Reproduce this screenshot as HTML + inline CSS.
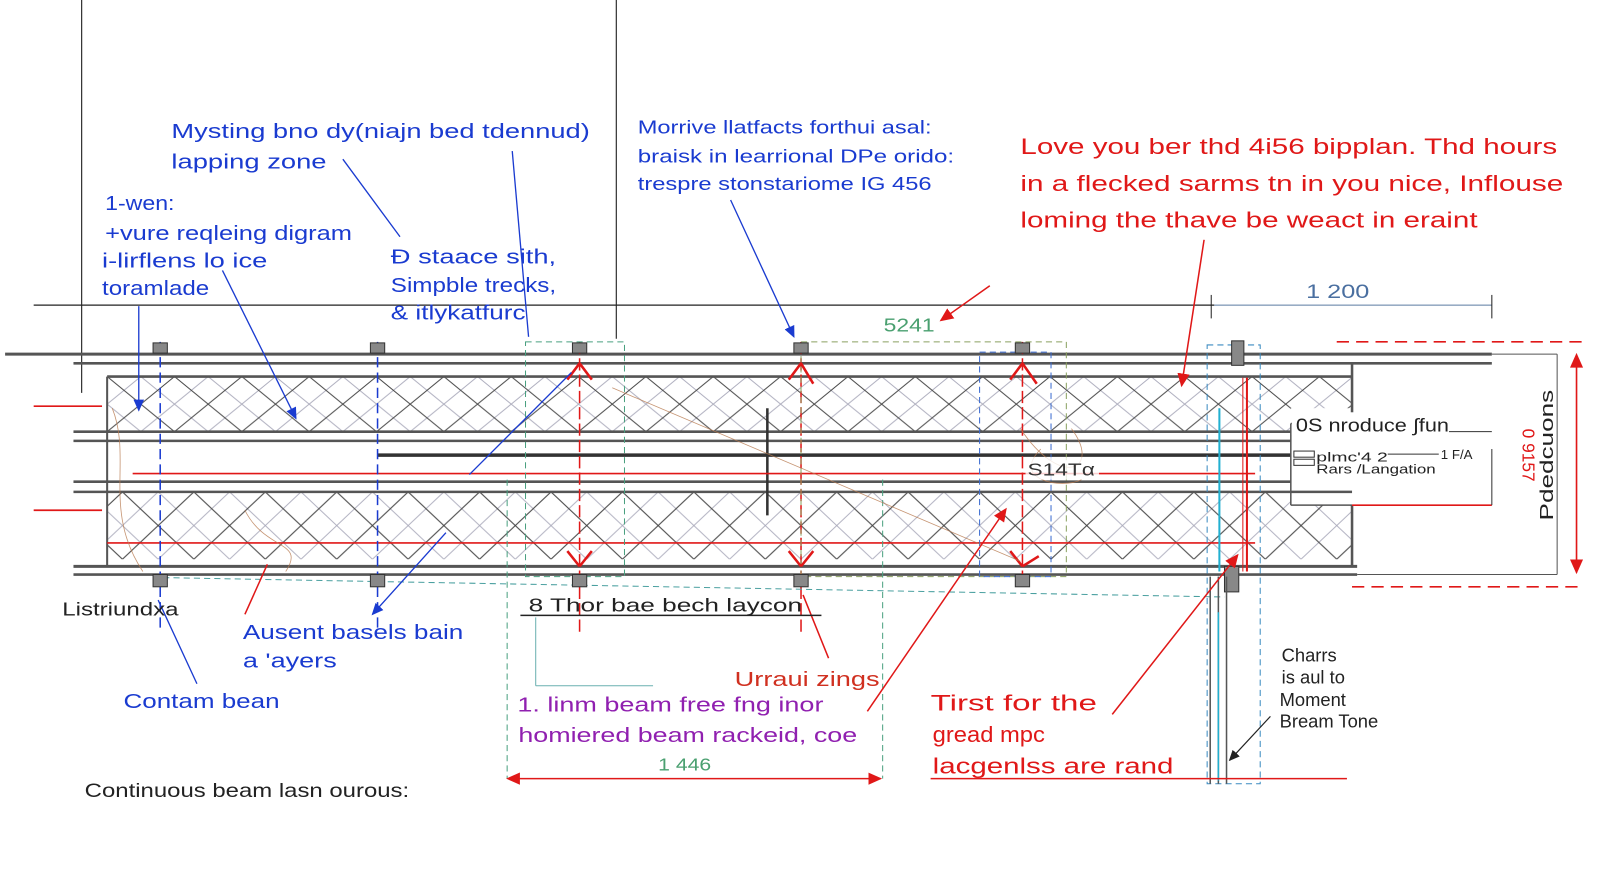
<!DOCTYPE html>
<html><head><meta charset="utf-8"><style>
html,body{margin:0;padding:0;background:#fff;}
svg{display:block;}
text{font-family:"Liberation Sans","DejaVu Sans",sans-serif;}
</style></head><body>
<svg width="1600" height="896" viewBox="0 0 1568 878" preserveAspectRatio="none" xmlns="http://www.w3.org/2000/svg">
<defs>
<pattern id="xp" width="66" height="54" patternUnits="userSpaceOnUse" x="105" y="369">
<path d="M0 0 L66 54 M66 0 L0 54" stroke="#444" stroke-width="1" fill="none"/>
</pattern>
<pattern id="xpl" width="66" height="54" patternUnits="userSpaceOnUse" x="138" y="369">
<path d="M0 0 L66 54 M66 0 L0 54" stroke="#aab" stroke-width="0.9" fill="none"/>
</pattern>
<pattern id="xp2" width="70" height="66" patternUnits="userSpaceOnUse" x="120" y="482">
<path d="M0 0 L70 66 M70 0 L0 66" stroke="#444" stroke-width="1" fill="none"/>
</pattern>
<pattern id="xp2l" width="70" height="66" patternUnits="userSpaceOnUse" x="155" y="482">
<path d="M0 0 L70 66 M70 0 L0 66" stroke="#aab" stroke-width="0.9" fill="none"/>
</pattern>
<marker id="ab" markerWidth="10" markerHeight="10" refX="8" refY="5" orient="auto"><path d="M0 1 L9 5 L0 9 Z" fill="#1a3bd0"/></marker>
<marker id="ar" markerWidth="10" markerHeight="10" refX="8" refY="5" orient="auto"><path d="M0 1 L9 5 L0 9 Z" fill="#e01818"/></marker>
<marker id="ar2" markerWidth="10" markerHeight="10" refX="2" refY="5" orient="auto"><path d="M9 1 L0 5 L9 9 Z" fill="#e01818"/></marker>
<marker id="ak" markerWidth="10" markerHeight="10" refX="8" refY="5" orient="auto"><path d="M0 1 L9 5 L0 9 Z" fill="#222"/></marker>
</defs>

<line x1="80" y1="0" x2="80" y2="385" stroke="#333" stroke-width="1.2"/>
<line x1="604" y1="0" x2="604" y2="332" stroke="#333" stroke-width="1.2"/>
<line x1="33" y1="299" x2="1190" y2="299" stroke="#222" stroke-width="1.2"/>
<line x1="1190" y1="299" x2="1462" y2="299" stroke="#5a7aa0" stroke-width="1"/>
<line x1="1187" y1="289" x2="1187" y2="312" stroke="#222"/>
<line x1="1462" y1="289" x2="1462" y2="312" stroke="#222"/>
<text x="1280" y="292" font-size="19" fill="#4a6fa0" textLength="62" lengthAdjust="spacingAndGlyphs">1  200</text>

<rect x="105" y="369" width="1220" height="54" fill="url(#xpl)"/>
<rect x="105" y="369" width="1220" height="54" fill="url(#xp)"/>
<rect x="105" y="482" width="1220" height="66" fill="url(#xp2l)"/>
<rect x="105" y="482" width="1220" height="66" fill="url(#xp2)"/>
<rect x="1265" y="400" width="62" height="95" fill="#fff"/>

<g stroke="#555">
<line x1="5" y1="347" x2="1462" y2="347" stroke-width="3"/>
<line x1="72" y1="356" x2="1462" y2="356" stroke-width="2.5"/>
<line x1="105" y1="369" x2="1325" y2="369" stroke-width="2.5"/>
<line x1="72" y1="423" x2="1265" y2="423" stroke-width="2.5"/>
<line x1="72" y1="432" x2="1265" y2="432" stroke-width="2.5"/>
<line x1="370" y1="446" x2="1265" y2="446" stroke-width="3.5" stroke="#333"/>
<line x1="72" y1="472" x2="1265" y2="472" stroke-width="2.5"/>
<line x1="72" y1="482" x2="1325" y2="482" stroke-width="2.5"/>
<line x1="72" y1="555" x2="1330" y2="555" stroke-width="3"/>
<line x1="72" y1="563" x2="1330" y2="563" stroke-width="2.5"/>
<line x1="105" y1="369" x2="105" y2="555" stroke-width="2"/>
<line x1="1325" y1="356" x2="1325" y2="415" stroke-width="2.5"/>
<line x1="1265" y1="415" x2="1325" y2="415" stroke-width="1.5"/>
<line x1="1265" y1="415" x2="1265" y2="495" stroke-width="1.5"/>
<line x1="1265" y1="495" x2="1325" y2="495" stroke-width="1.5"/>
<line x1="1325" y1="495" x2="1325" y2="555" stroke-width="2.5"/>
<line x1="1462" y1="347" x2="1526" y2="347" stroke-width="1"/>
<line x1="1526" y1="347" x2="1526" y2="563" stroke-width="1"/>
<line x1="1330" y1="563" x2="1526" y2="563" stroke-width="1"/>
<line x1="752" y1="400" x2="752" y2="505" stroke-width="2.5" stroke="#333"/>
</g>

<g stroke="#e01818" stroke-width="1.6" fill="none">
<line x1="130" y1="464" x2="1230" y2="464"/>
<line x1="105" y1="532" x2="1230" y2="532"/>
<line x1="33" y1="398" x2="100" y2="398"/>
<line x1="33" y1="500" x2="100" y2="500"/>
<line x1="1222" y1="370" x2="1222" y2="560" stroke-width="2"/>
<line x1="1218" y1="370" x2="1218" y2="560" stroke-width="1"/>
<line x1="1325" y1="495" x2="1462" y2="495" />
<line x1="1462" y1="440" x2="1462" y2="495" stroke="#333" stroke-width="1"/>
<line x1="1310" y1="335" x2="1552" y2="335" stroke-dasharray="12,7"/>
<line x1="1325" y1="575" x2="1552" y2="575" stroke-dasharray="12,7"/>
<line x1="1545" y1="349" x2="1545" y2="561" marker-end="url(#ar)" marker-start="url(#ar2)"/>
</g>

<g stroke-width="1.5" fill="none">
<line x1="157" y1="335" x2="157" y2="620" stroke="#1a3bd0" stroke-dasharray="10,5"/>
<line x1="370" y1="335" x2="370" y2="620" stroke="#1a3bd0" stroke-dasharray="10,5"/>
<line x1="568" y1="335" x2="568" y2="620" stroke="#e01818" stroke-dasharray="12,4"/>
<line x1="785" y1="335" x2="785" y2="620" stroke="#e01818" stroke-dasharray="12,4"/>
<line x1="1002" y1="335" x2="1002" y2="575" stroke="#e01818" stroke-dasharray="12,4"/>
<line x1="1195" y1="400" x2="1195" y2="560" stroke="#22b0d0" stroke-width="2"/>
</g>
<g fill="none" stroke-width="1" stroke-dasharray="6,4">
<rect x="515" y="335" width="97" height="230" stroke="#4aa080"/>
<rect x="785" y="335" width="260" height="230" stroke="#8aa060"/>
<rect x="960" y="345" width="70" height="220" stroke="#3a6ad0"/>
<rect x="1183" y="338" width="52" height="430" stroke="#3a8ac0"/>
<line x1="497" y1="470" x2="497" y2="763" stroke="#4aa080"/>
<line x1="865" y1="470" x2="865" y2="763" stroke="#4aa080"/>
<line x1="160" y1="566" x2="1200" y2="585" stroke="#4aa0a0"/>
</g>

<g fill="#888" stroke="#333" stroke-width="1">
<rect x="150" y="336" width="14" height="10"/><rect x="363" y="336" width="14" height="10"/>
<rect x="561" y="336" width="14" height="10"/><rect x="778" y="336" width="14" height="10"/>
<rect x="995" y="336" width="14" height="10"/><rect x="1207" y="334" width="12" height="24"/>
<rect x="150" y="563" width="14" height="12"/><rect x="363" y="563" width="14" height="12"/>
<rect x="561" y="563" width="14" height="12"/><rect x="778" y="563" width="14" height="12"/>
<rect x="995" y="563" width="14" height="12"/><rect x="1200" y="555" width="14" height="25"/>
</g>
<g stroke="#e01818" stroke-width="2.5" fill="none">
<path d="M568 356 L556 372 M568 356 L580 372 M785 356 L773 372 M785 356 L797 376 M1002 356 L990 372 M1002 356 L1016 376"/>
<path d="M568 555 L556 540 M568 555 L580 540 M785 555 L773 540 M785 555 L797 540 M1002 555 L990 540 M1002 555 L1018 545"/>
</g>
<g stroke="#b87a50" stroke-width="0.8" fill="none" opacity="0.8">
<path d="M110 400 C130 450 100 500 140 560 M240 500 C260 540 300 530 280 560 M600 380 L1000 550 M1000 420 C1040 480 1080 460 1050 420 M1020 440 C990 470 1040 480 1060 470"/>
</g>
<g stroke="#555" stroke-width="1.5">
<line x1="1186" y1="565" x2="1186" y2="768"/><line x1="1194" y1="565" x2="1194" y2="768"/><line x1="1202" y1="565" x2="1202" y2="768"/>
</g>
<line x1="1194" y1="600" x2="1194" y2="765" stroke="#22b0d0" stroke-width="1.5"/>

<g stroke="#1a3bd0" stroke-width="1.3" fill="none">
<line x1="336" y1="156" x2="392" y2="232"/>
<line x1="502" y1="148" x2="518" y2="330"/>
<line x1="218" y1="265" x2="290" y2="410" marker-end="url(#ab)"/>
<line x1="136" y1="300" x2="136" y2="402" marker-end="url(#ab)"/>
<line x1="716" y1="196" x2="778" y2="330" marker-end="url(#ab)"/>
<line x1="155" y1="588" x2="193" y2="670"/>
<line x1="437" y1="522" x2="365" y2="602" marker-end="url(#ab)"/>
<line x1="560" y1="365" x2="460" y2="465"/>
</g>
<g stroke="#e01818" stroke-width="1.5" fill="none">
<line x1="970" y1="280" x2="922" y2="314" marker-end="url(#ar)"/>
<line x1="1180" y1="235" x2="1158" y2="378" marker-end="url(#ar)"/>
<line x1="262" y1="553" x2="240" y2="602"/>
<line x1="787" y1="583" x2="812" y2="645"/>
<line x1="985" y1="500" x2="850" y2="697" marker-start="url(#ar2)"/>
<line x1="1212" y1="545" x2="1090" y2="700" marker-start="url(#ar2)"/>
<line x1="912" y1="763" x2="1320" y2="763"/>
<line x1="499" y1="763" x2="863" y2="763" marker-end="url(#ar)" marker-start="url(#ar2)"/>
</g>
<line x1="1245" y1="702" x2="1205" y2="745" stroke="#222" stroke-width="1.2" marker-end="url(#ak)"/>
<line x1="510" y1="603" x2="805" y2="603" stroke="#222" stroke-width="1.5"/>
<line x1="525" y1="605" x2="525" y2="672" stroke="#6ab0b0"/>
<line x1="525" y1="672" x2="640" y2="672" stroke="#6ab0b0"/>

<rect x="1266" y="404" width="155" height="22" fill="#fff"/>
<text x="1270" y="423" font-size="18" fill="#222" textLength="150" lengthAdjust="spacingAndGlyphs">0S nroduce ∫fun</text>
<line x1="1420" y1="423" x2="1462" y2="423" stroke="#333"/>
<text x="1290" y="452" font-size="13" fill="#222" textLength="70" lengthAdjust="spacingAndGlyphs">plmc'4 2</text>
<line x1="1360" y1="445" x2="1410" y2="445" stroke="#333"/>
<text x="1412" y="450" font-size="13" fill="#222">1 F/A</text>
<text x="1290" y="464" font-size="13" fill="#222" textLength="117" lengthAdjust="spacingAndGlyphs">Rars /Langation</text>
<rect x="1268" y="442" width="20" height="6" fill="none" stroke="#333"/><rect x="1268" y="450" width="20" height="6" fill="none" stroke="#333"/>
<text x="0" y="0" font-size="18" fill="#222" transform="translate(1522,510) rotate(-90)" textLength="128" lengthAdjust="spacingAndGlyphs">Pdedcuons</text>
<text x="0" y="0" font-size="17" fill="#e01818" transform="translate(1492,420) rotate(90)">0 9157</text>
<rect x="1005" y="448" width="72" height="22" fill="#fff" opacity="0.8"/>
<text x="1007" y="466" font-size="17" fill="#333" textLength="66" lengthAdjust="spacingAndGlyphs">S14Tα</text>
<text x="866" y="325" font-size="18" fill="#4aa070" textLength="50" lengthAdjust="spacingAndGlyphs">5241</text>

<g font-size="20" fill="#1a3bd0">
<text x="168" y="135" textLength="410" lengthAdjust="spacingAndGlyphs">Mysting bno dy(niajn bed tdennud)</text>
<text x="168" y="165" textLength="152" lengthAdjust="spacingAndGlyphs">lapping zone</text>
<text x="103" y="206" textLength="68" lengthAdjust="spacingAndGlyphs">1-wen:</text>
<text x="103" y="235" textLength="242" lengthAdjust="spacingAndGlyphs">+vure reqleing digram</text>
<text x="100" y="262" textLength="162" lengthAdjust="spacingAndGlyphs">i-lirflens lo ice</text>
<text x="100" y="289" textLength="105" lengthAdjust="spacingAndGlyphs">toramlade</text>
<text x="383" y="258" textLength="162" lengthAdjust="spacingAndGlyphs">Ð staace  sith,</text>
<text x="383" y="286" textLength="162" lengthAdjust="spacingAndGlyphs">Simpble trecks,</text>
<text x="383" y="313" textLength="132" lengthAdjust="spacingAndGlyphs">&amp; itlykatfurc</text>
<text x="625" y="131" textLength="288" lengthAdjust="spacingAndGlyphs" font-size="18">Morrive llatfacts forthui asal:</text>
<text x="625" y="159" textLength="310" lengthAdjust="spacingAndGlyphs" font-size="18">braisk in learrional DPe orido:</text>
<text x="625" y="186" textLength="288" lengthAdjust="spacingAndGlyphs" font-size="18">trespre stonstariome IG 456</text>
<text x="238" y="626" textLength="216" lengthAdjust="spacingAndGlyphs">Ausent basels bain</text>
<text x="238" y="654" textLength="92" lengthAdjust="spacingAndGlyphs">a 'ayers</text>
<text x="121" y="694" textLength="153" lengthAdjust="spacingAndGlyphs">Contam bean</text>
</g>
<g font-size="22" fill="#e01818">
<text x="1000" y="151" textLength="526" lengthAdjust="spacingAndGlyphs">Love you ber thd 4i56 bipplan. Thd hours</text>
<text x="1000" y="187" textLength="532" lengthAdjust="spacingAndGlyphs">in a flecked sarms tn in you nice, Inflouse</text>
<text x="1000" y="223" textLength="448" lengthAdjust="spacingAndGlyphs">loming the thave be weact in eraint</text>
<text x="720" y="672" font-size="20" fill="#d03020" textLength="142" lengthAdjust="spacingAndGlyphs">Urraui zings</text>
<text x="912" y="696" textLength="163" lengthAdjust="spacingAndGlyphs">Tirst for the</text>
<text x="914" y="727" textLength="110" lengthAdjust="spacingAndGlyphs">gread mpc</text>
<text x="914" y="758" textLength="236" lengthAdjust="spacingAndGlyphs">lacgenlss are rand</text>
</g>
<g font-size="20" fill="#9020b0">
<text x="507" y="697" textLength="300" lengthAdjust="spacingAndGlyphs">1. linm beam free fng inor</text>
<text x="508" y="727" textLength="332" lengthAdjust="spacingAndGlyphs">homiered beam rackeid, coe</text>
</g>
<text x="645" y="755" font-size="17" fill="#4aa070" textLength="52" lengthAdjust="spacingAndGlyphs">1 446</text>
<g font-size="18" fill="#222">
<text x="61" y="603" textLength="114" lengthAdjust="spacingAndGlyphs">Listriundxa</text>
<text x="518" y="599" textLength="268" lengthAdjust="spacingAndGlyphs">8 Thor  bae  bech   laycon</text>
<text x="1256" y="648">Charrs</text>
<text x="1256" y="670">is aul to</text>
<text x="1254" y="692">Moment</text>
<text x="1254" y="713">Bream Tone</text>
<text x="83" y="781" font-size="19" textLength="318" lengthAdjust="spacingAndGlyphs">Continuous beam lasn ourous:</text>
</g>
</svg>
</body></html>
